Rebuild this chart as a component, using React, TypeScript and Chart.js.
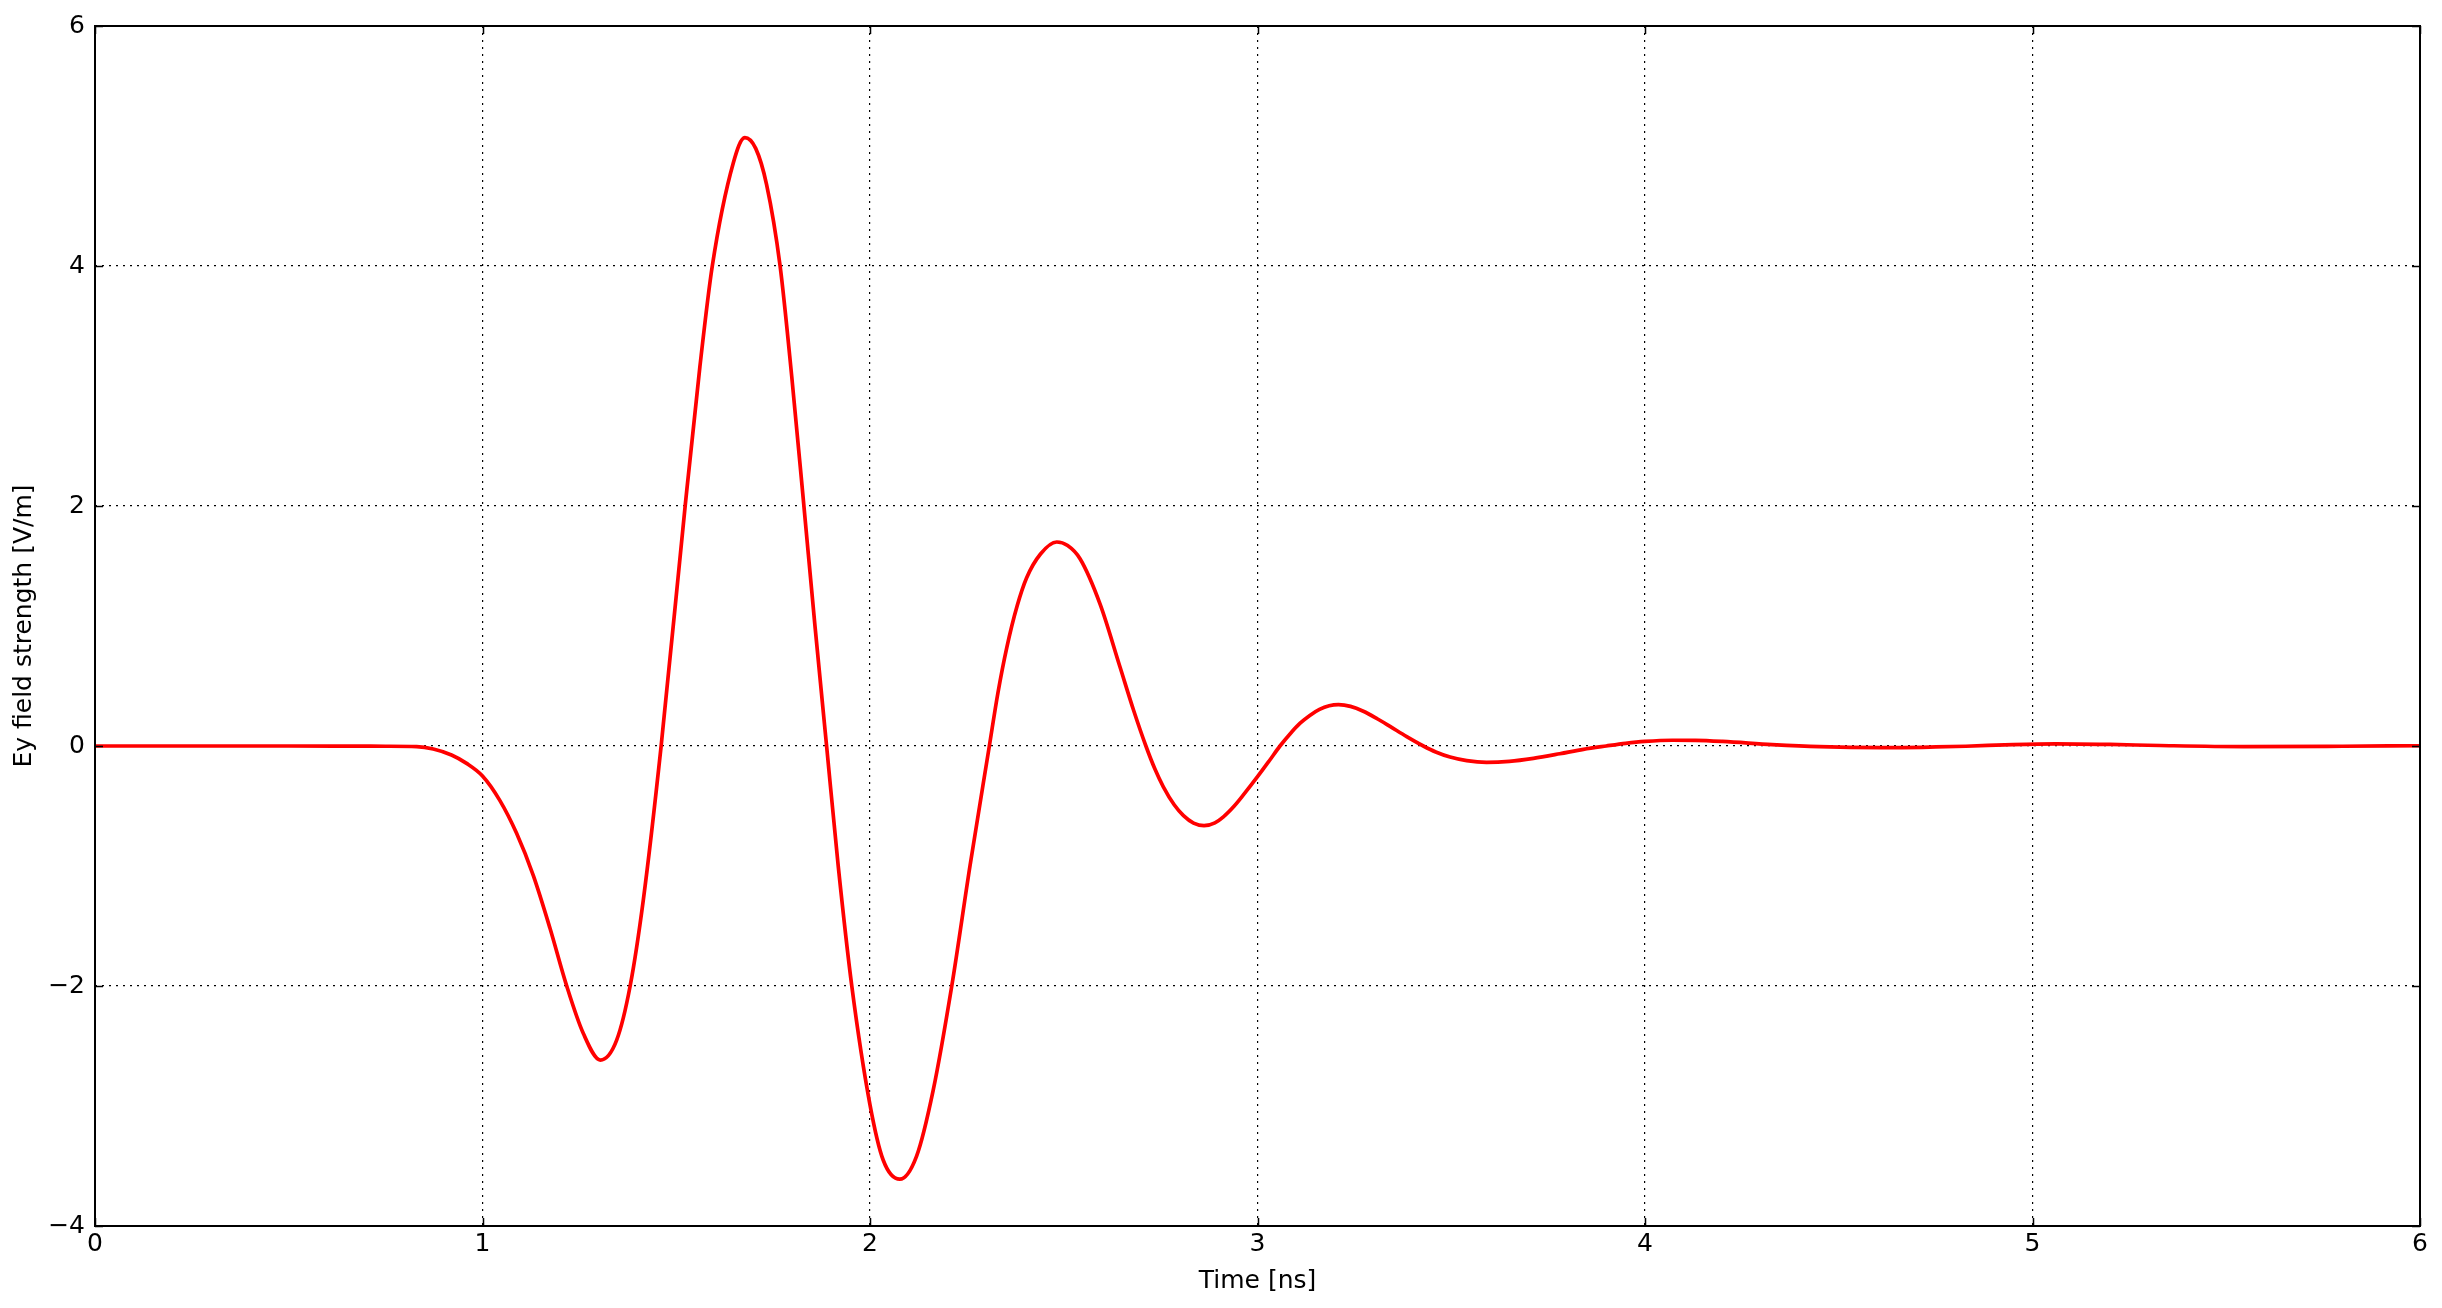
import React, { useEffect, useRef } from "react";
import { Chart, registerables } from "chart.js";

Chart.register(...registerables);

// Time axis samples [ns]
const timeNs: number[] = [
  0, 0.25, 0.5, 0.65, 0.75, 0.83, 0.873, 0.92, 0.959, 1.0, 1.045, 1.088, 1.131,
  1.174, 1.217, 1.26, 1.304, 1.346, 1.381, 1.415, 1.461, 1.523, 1.561, 1.593,
  1.647, 1.677, 1.705, 1.733, 1.768, 1.798, 1.828, 1.858, 1.888, 1.918, 1.953,
  2.0, 2.034, 2.077, 2.12, 2.163, 2.211, 2.258, 2.308, 2.33, 2.353, 2.38,
  2.404, 2.44, 2.482, 2.51, 2.542, 2.594, 2.645, 2.68, 2.712, 2.735, 2.757,
  2.785, 2.809, 2.835, 2.862, 2.89, 2.912, 2.94, 2.963, 3.0, 3.03, 3.058,
  3.085, 3.11, 3.135, 3.16, 3.185, 3.209, 3.24, 3.273, 3.31, 3.342, 3.385,
  3.428, 3.46, 3.497, 3.54, 3.591, 3.65, 3.712, 3.78, 3.841, 3.9, 3.95, 4.0,
  4.07, 4.13, 4.2, 4.328, 4.45, 4.61, 4.75, 4.828, 4.95, 5.06, 5.2, 5.329,
  5.545, 5.8, 6.0,
];

// Ey field strength [V/m]
const fieldVm: number[] = [
  0, 0, 0, -0.001, -0.002, -0.005, -0.025, -0.075, -0.145, -0.25, -0.455,
  -0.728, -1.078, -1.517, -1.997, -2.394, -2.617, -2.453, -2.0, -1.283, 0, 2.0,
  3.16, 4.0, 4.857, 5.07, 4.98, 4.68, 4.0, 3.08, 2.05, 1.0, 0, -1.0, -2.0,
  -2.99, -3.45, -3.61, -3.42, -2.87, -2.0, -1.0, 0, 0.44, 0.82, 1.17, 1.4,
  1.6, 1.7, 1.67, 1.56, 1.18, 0.66, 0.3, 0, -0.19, -0.34, -0.49, -0.58,
  -0.642, -0.664, -0.64, -0.59, -0.5, -0.41, -0.256, -0.125, 0, 0.105, 0.19,
  0.255, 0.305, 0.335, 0.344, 0.33, 0.29, 0.225, 0.163, 0.078, 0, -0.05,
  -0.092, -0.122, -0.136, -0.128, -0.103, -0.065, -0.028, 0, 0.022, 0.038,
  0.048, 0.047, 0.038, 0.012, -0.006, -0.014, -0.008, -0.002, 0.012, 0.018,
  0.013, 0.004, -0.005, -0.002, 0.002,
];

const xTickValues: number[] = [0, 1, 2, 3, 4, 5, 6];
const yTickValues: number[] = [-4, -2, 0, 2, 4, 6];

const xTitle = "Time [ns]";
const yTitle = "Ey field strength [V/m]";

const FONT = "'DejaVu Sans', sans-serif";
const FS = 25;

const framePlugin = {
  id: "mplFrame",
  afterDatasetsDraw(chart: any) {
    const { ctx, chartArea, scales } = chart;
    const { left, right, top, bottom } = chartArea;
    const x = scales.x;
    const y = scales.y;
    const tl = 8;
    ctx.save();
    ctx.strokeStyle = "#000";
    ctx.lineWidth = 1.5;
    ctx.beginPath();
    for (const v of xTickValues) {
      const px = Math.round(x.getPixelForValue(v)) + 0.5;
      ctx.moveTo(px, bottom);
      ctx.lineTo(px, bottom - tl);
      ctx.moveTo(px, top);
      ctx.lineTo(px, top + tl);
    }
    for (const v of yTickValues) {
      const py = Math.round(y.getPixelForValue(v)) + 0.5;
      ctx.moveTo(left, py);
      ctx.lineTo(left + tl, py);
      ctx.moveTo(right, py);
      ctx.lineTo(right - tl, py);
    }
    ctx.stroke();
    ctx.lineWidth = 2;
    ctx.strokeRect(left, top, right - left, bottom - top);
    ctx.restore();
  },
};

const fmt = (v: number) => (v < 0 ? "\u2212" + Math.abs(v) : String(v));

export default function App() {
  const ref = useRef<HTMLCanvasElement | null>(null);

  useEffect(() => {
    if (!ref.current) return;
    const points = timeNs.map((t, i) => ({ x: t, y: fieldVm[i] }));
    const chart = new Chart(ref.current, {
      type: "line",
      data: {
        datasets: [
          {
            data: points,
            borderColor: "#ff0000",
            borderWidth: 3.7,
            pointRadius: 0,
            fill: false,
            cubicInterpolationMode: "monotone",
            borderJoinStyle: "round",
          },
        ],
      },
      plugins: [framePlugin],
      options: {
        animation: false,
        responsive: false,
        devicePixelRatio: 1,
        layout: { padding: { left: 0, top: 26, right: 22, bottom: 0 } },
        plugins: {
          legend: { display: false },
          tooltip: { enabled: false },
        },
        scales: {
          x: {
            type: "linear",
            min: 0,
            max: 6,
            afterBuildTicks: (s: any) => {
              s.ticks = xTickValues.map((v) => ({ value: v }));
            },
            afterFit: (s: any) => {
              s.height = 82;
            },
            grid: {
              color: "#000",
              lineWidth: 1.2,
              drawTicks: false,
            },
            border: { display: false, dash: [2, 5] },
            ticks: {
              color: "#000",
              padding: 3,
              maxRotation: 0,
              font: { family: FONT, size: FS },
              callback: (v: any) => fmt(Number(v)),
            },
            title: {
              display: true,
              text: xTitle,
              color: "#000",
              font: { family: FONT, size: FS },
              padding: { top: 0, bottom: 12 },
            },
          },
          y: {
            type: "linear",
            min: -4,
            max: 6,
            afterBuildTicks: (s: any) => {
              s.ticks = yTickValues.map((v) => ({ value: v }));
            },
            afterFit: (s: any) => {
              s.width = 95;
            },
            grid: {
              color: "#000",
              lineWidth: 1.2,
              drawTicks: false,
            },
            border: { display: false, dash: [2, 5] },
            ticks: {
              color: "#000",
              padding: 10,
              font: { family: FONT, size: FS },
              callback: (v: any) => fmt(Number(v)),
            },
            title: {
              display: true,
              text: yTitle,
              color: "#000",
              font: { family: FONT, size: FS },
              padding: { top: 9, bottom: 0 },
            },
          },
        },
      },
    } as any);
    return () => chart.destroy();
  }, []);

  return (
    <div
      style={{
        position: "absolute",
        left: 0,
        top: 0,
        width: 2442,
        height: 1308,
        background: "#fff",
      }}
    >
      <canvas
        ref={ref}
        width={2442}
        height={1308}
        style={{ display: "block", width: 2442, height: 1308 }}
      />
    </div>
  );
}
